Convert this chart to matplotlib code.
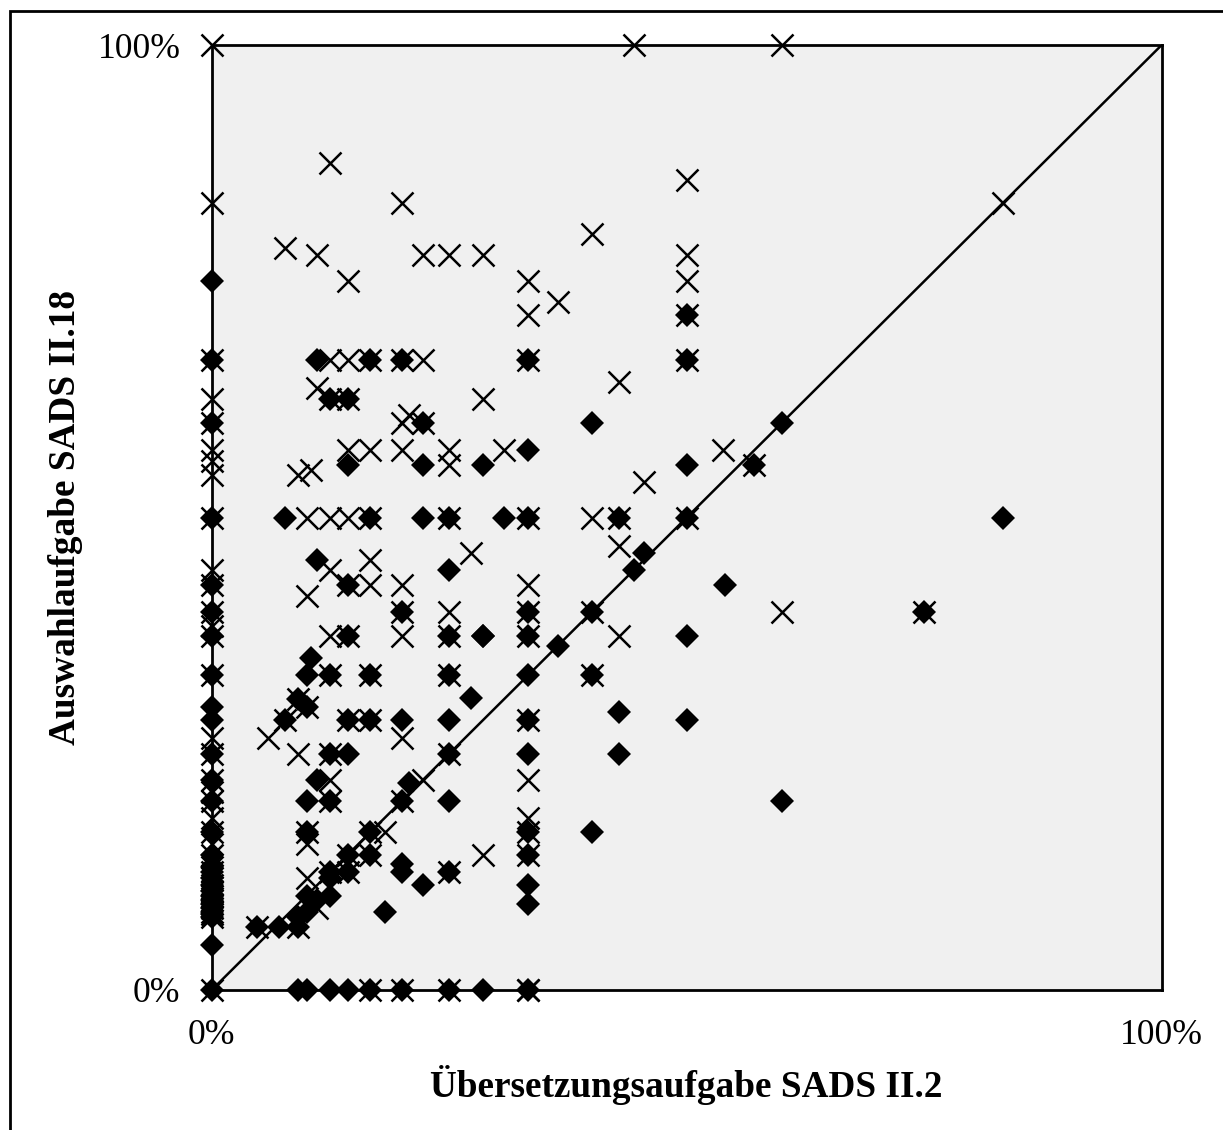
import matplotlib
matplotlib.use("Agg")
import matplotlib.pyplot as plt
from matplotlib.patches import Rectangle

W, H = 1223, 1130

x_label = "Übersetzungsaufgabe SADS II.2"
y_label = "Auswahlaufgabe SADS II.18"
tick_values = [0, 100]
tick_labels = ["0%", "100%"]

# values in percent
diamond_points = [
    # x = 0
    (0,0),(0,4.8),(0,7.7),(0,8),(0,8.3),(0,8.7),(0,9.1),(0,9.5),(0,10),(0,10.5),(0,11.1),(0,11.8),(0,12.5),(0,13),
    (0,14.3),(0,16.7),(0,20),(0,22.2),(0,25),(0,28.6),(0,30),(0,33.3),(0,37.5),(0,40),(0,42.9),(0,50),(0,60),(0,66.7),(0,75),
    # y = 0
    (9.1,0),(10,0),(12.5,0),(14.3,0),(16.7,0),(20,0),(25,0),(28.6,0),(33.3,0),
    # cluster near the diagonal
    (4.8,6.7),(7.1,6.7),(9.1,6.7),(9.1,7.7),(10,8.3),(10,10),(11.1,9.5),(12.5,10),(12.5,11.8),(12.5,12.5),(14.3,12.5),
    (14.3,14.3),(16.7,14.3),(16.7,16.7),(18.2,8.3),(20,13.3),(20,12.5),(22.2,11.1),(25,12.5),
    (20,20),(20.8,21.9),(25,20),(25,25),
    (10,16.7),(10,20),(12.5,20),(11.1,22.2),(12.5,25),(14.3,25),
    (7.7,28.6),(14.3,28.6),(16.7,28.6),(20,28.6),(25,28.6),
    (9.1,30.8),(10,30),(10.5,35.1),(10,33.3),(12.5,33.3),(16.7,33.3),(25,33.3),(27.3,30.9),
    (14.3,37.5),(20,40),(25,37.5),(28.6,37.5),(25,44.4),(14.3,42.9),(11.1,45.5),
    # x = 33.3
    (33.3,9.1),(33.3,11.1),(33.3,14.3),(33.3,16.7),(33.3,25),(33.3,28.6),(33.3,33.3),(33.3,37.5),(33.3,40),(33.3,50),(33.3,57.1),(33.3,66.7),
    # row 50 and above
    (7.7,50),(16.7,50),(22.2,50),(25,50),(30.8,50),
    (11.1,66.7),(16.7,66.7),(20,66.7),(12.5,62.5),(14.3,62.5),(22.2,60),
    (14.3,55.6),(22.2,55.6),(28.6,55.6),
    # right part
    (28.6,37.5),(36.4,36.4),(40,16.7),(40,33.3),(40,40),(40,60),
    (42.9,25),(42.9,29.4),(42.9,50),(44.4,44.4),(45.5,46.2),
    (50,28.6),(50,37.5),(50,50),(50,55.6),(50,66.7),(50,71.4),
    (54,42.9),(57.1,55.6),(60,20),(60,60),(75,40),(83.3,50),
]
cross_points = [
    # x = 0
    (0,0),(0,7.7),(0,8),(0,8.3),(0,8.7),(0,9.1),(0,9.5),(0,10),(0,10.5),(0,11.1),(0,11.8),(0,12.5),(0,13),
    (0,14.3),(0,15.4),(0,16.7),(0,18.2),(0,20),(0,21),(0,22.2),(0,25),(0,26.7),(0,33.3),(0,37.5),(0,38.5),(0,40),(0,42.9),(0,44.4),
    (0,50),(0,54.5),(0,56),(0,57.1),(0,60),(0,62.5),(0,66.7),(0,83.3),(0,100),
    # y = 0
    (16.7,0),(20,0),(25,0),(33.3,0),
    # lower left
    (4.8,6.7),(9.1,6.7),(10,11.8),(11.1,8.7),(12.5,12.5),(14.3,12.5),(14.3,14.3),(16.7,14.3),(16.7,16.7),(18.2,16.7),
    (25,12.5),(28.6,14.3),(10,15.4),(10,16.7),(12.5,20),(20,20),(22.2,22.2),(12.5,22.2),(25,25),
    (9.1,25),(12.5,25),(5.9,26.7),(20,26.7),(7.7,28.6),(14.3,28.6),(16.7,28.6),
    (9.1,30.8),(10,30),(12.5,33.3),(16.7,33.3),(25,33.3),
    (12.5,37.5),(14.3,37.5),(20,37.5),(25,37.5),(20,40),(25,40),
    (10,41.7),(14.3,42.9),(16.7,42.9),(20,42.9),(12.5,44.4),(16.7,45.5),(27.3,46.2),
    # x = 33.3
    (33.3,0),(33.3,14.3),(33.3,16.7),(33.3,18.2),(33.3,22.2),(33.3,28.6),(33.3,37.5),(33.3,40),(33.3,42.9),(33.3,50),(33.3,66.7),(33.3,71.4),(33.3,75),
    # row 50 and above
    (10,50),(12.5,50),(14.3,50),(16.7,50),(25,50),(40,50),
    (9.1,54.5),(10.5,55),(25,55.6),(14.3,57.1),(16.7,57.1),(20,57.1),(25,57.1),(30.8,57.1),
    (20,60),(20.8,60.8),(22.2,60),(12.5,62.5),(14.3,62.5),(28.6,62.5),(11.1,63.7),
    (12.5,66.7),(14.3,66.7),(16.7,66.7),(20,66.7),(22.2,66.7),
    (36.4,72.8),(14.3,75),(7.7,78.5),(11.1,77.8),(22.2,77.8),(25,77.8),(28.6,77.8),
    (20,83.3),(12.5,87.5),(40,80),
    # right part
    (40,33.3),(40,40),(42.9,37.5),(42.9,47),(42.9,50),(42.9,64.3),(45.5,53.8),
    (50,50),(50,66.7),(50,71.4),(50,75),(50,77.8),(50,85.7),(53.8,57.1),(57.1,55.6),
    (60,40),(75,40),(83.3,83.3),(44.4,100),(60,100),
]

plt.rcParams["font.family"] = ["Liberation Serif", "DejaVu Serif"]

fig = plt.figure(figsize=(W / 100, H / 100), dpi=100)
fig.patch.set_facecolor("white")
fig.add_artist(Rectangle((10 / W, -0.02), 1.02, (H - 11) / H + 0.02, transform=fig.transFigure,
                         fill=False, edgecolor="black", linewidth=2))

ax = fig.add_axes([211.7 / W, (H - 990) / H, 950 / W, 945 / H])
ax.set_facecolor("#f0f0f0")
ax.set_xlim(0, 100)
ax.set_ylim(0, 100)
for s in ax.spines.values():
    s.set_linewidth(2)
    s.set_color("black")

ax.plot(tick_values, tick_values, color="black", lw=1.8, zorder=2)

ax.plot([p[0] for p in cross_points], [p[1] for p in cross_points], ls="none", marker="x",
        ms=16, mew=1.8, color="black", clip_on=False, zorder=3)
ax.plot([p[0] for p in diamond_points], [p[1] for p in diamond_points], ls="none", marker="D",
        ms=12.3, mew=0, color="black", clip_on=False, zorder=4)

ax.set_xticks(tick_values, tick_labels, fontsize=25.7)
ax.set_yticks(tick_values, tick_labels, fontsize=25.7)
ax.tick_params(axis="x", length=0, pad=21)
ax.tick_params(axis="y", length=0, pad=22.5)

ax.set_xlabel(x_label, fontsize=26.8, fontweight="bold")
ax.set_ylabel(y_label, fontsize=26.8, fontweight="bold")
ax.xaxis.set_label_coords(0.5, -95 / 945, transform=ax.transAxes)
ax.xaxis.label.set_verticalalignment("center")
ax.yaxis.set_label_coords(-146 / 950, 0.5, transform=ax.transAxes)
ax.yaxis.label.set_verticalalignment("center")

fig.savefig("out.png", dpi=100, facecolor="white")
